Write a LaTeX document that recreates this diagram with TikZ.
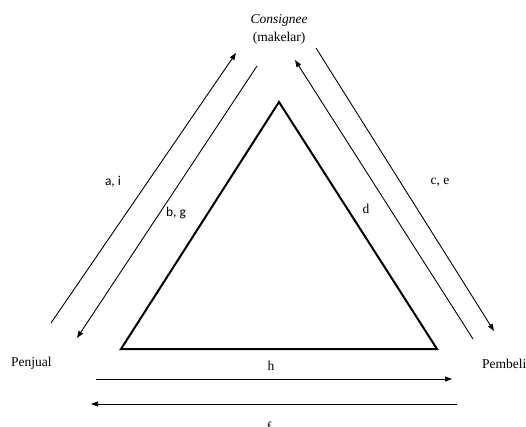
\documentclass[tikz,border=0pt]{standalone}
\usepackage{fontspec}
\setmainfont{Liberation Serif}
\newfontfamily\calibri{Carlito}
\usetikzlibrary{arrows.meta,positioning}
\tikzset{
  lbl/.style={inner sep=0pt, anchor=base, font=\fontsize{13.5}{15}\selectfont},
  sanslbl/.style={lbl, font=\fontsize{13.5}{15}\selectfont\calibri},
  arr/.style={-{Triangle[length=7pt,width=5pt]}, line width=0.9pt},
  tri/.style={line width=2pt, line join=miter}
}
\begin{document}
\begin{tikzpicture}[x=1pt, y=-1pt]
  \useasboundingbox (0,0) rectangle (526,427);
  % parties
  \node[lbl] (cons) at (279,24) {\itshape Consignee};
  \node[lbl] (mak) at (279,42) {(makelar)};
  \node[lbl, anchor=base west] (penj) at (11,366) {Penjual};
  \node[lbl, anchor=base west] (pemb) at (482,368) {Pembeli};
  % triangle
  \coordinate (top) at (279,102);
  \coordinate (bl) at (121,349);
  \coordinate (br) at (437,349);
  \draw[tri] (top) -- (bl) -- (br) -- cycle;
  % flow arrows
  \coordinate (ai1) at (51,323);  \coordinate (ai2) at (236,53);
  \coordinate (bg1) at (257,66);  \coordinate (bg2) at (77,338);
  \coordinate (d1) at (473,339);  \coordinate (d2) at (295,60);
  \coordinate (ce1) at (316,48);  \coordinate (ce2) at (494,331);
  \coordinate (h1) at (96,379);   \coordinate (h2) at (452,379);
  \coordinate (f1) at (457,404);  \coordinate (f2) at (91,404);
  \draw[arr] (ai1) -- (ai2);
  \draw[arr] (bg1) -- (bg2);
  \draw[arr] (d1) -- (d2);
  \draw[arr] (ce1) -- (ce2);
  \draw[arr] (h1) -- (h2);
  \draw[arr] (f1) -- (f2);
  % flow labels
  \node[sanslbl] (lai) at (113,186) {a, i};
  \node[sanslbl] (lbg) at (176,217) {b, g};
  \node[lbl] (ld) at (366,214) {d};
  \node[lbl] (lce) at (440,185) {c, e};
  \node[lbl] (lh) at (271,370) {h};
  \node[lbl] (lf) at (269,431) {f};
\end{tikzpicture}
\end{document}
